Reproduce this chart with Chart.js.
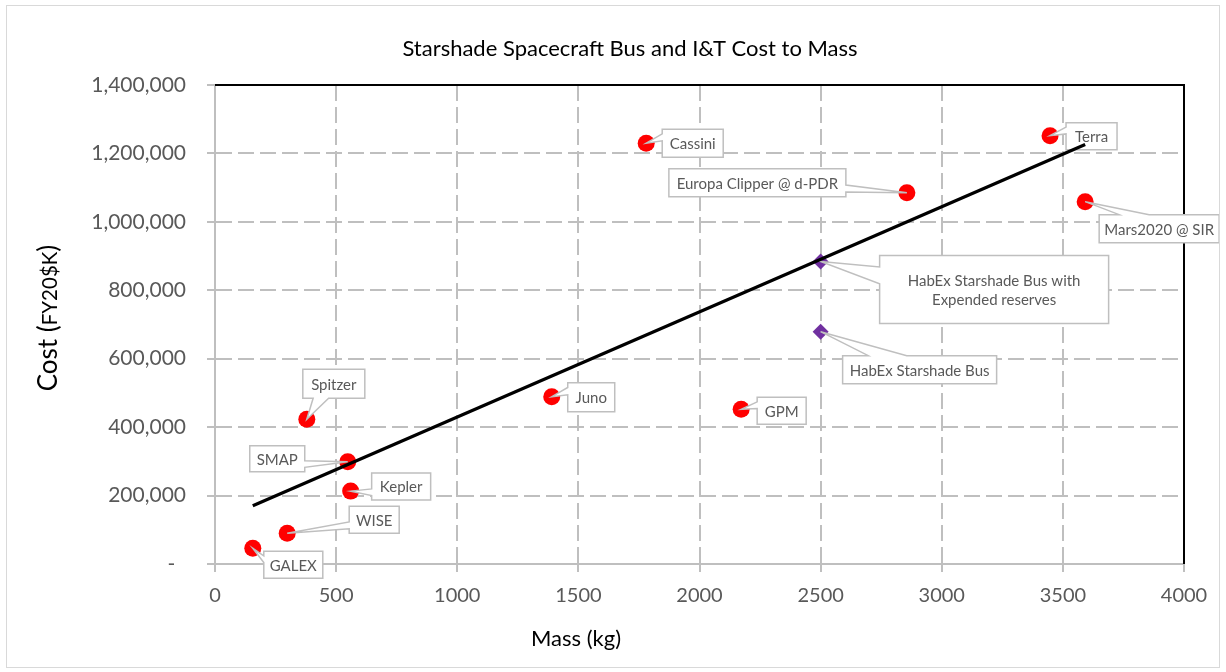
<!DOCTYPE html>
<html>
<head>
<meta charset="utf-8">
<script src="https://cdn.jsdelivr.net/npm/chart.js@4.4.1/dist/chart.umd.min.js"></script>
<style>
html,body{margin:0;padding:0;background:#fff;}
#wrap{width:1226px;height:672px;position:relative;}
</style>
</head>
<body>
<div id="wrap"><canvas id="c"></canvas></div>
<script>
// ---- data ----
const missionNames = ['GALEX', 'WISE', 'Kepler', 'SMAP', 'Spitzer', 'Juno', 'Cassini', 'GPM', 'Europa Clipper @ d-PDR', 'Terra', 'Mars2020 @ SIR'];
const missionMass = [156, 298, 560, 548, 379, 1390, 1780, 2172, 2856, 3447, 3592];
const missionCost = [46000, 90000, 213000, 299000, 423000, 489000, 1230000, 452000, 1085000, 1252000, 1059000];

const habexNames = [['HabEx Starshade Bus with', 'Expended reserves'], ['HabEx Starshade Bus']];
const habexMass = [2500, 2500];
const habexCost = [884000, 679000];

const trendMass = [156, 3592];
const trendCost = [170000, 1226000];

const xTickValues = [0, 500, 1000, 1500, 2000, 2500, 3000, 3500, 4000];
const yTickValues = [0, 200000, 400000, 600000, 800000, 1000000, 1200000, 1400000];

const chartTitle = 'Starshade Spacecraft Bus and I&T Cost to Mass';
const xTitle = 'Mass (kg)';
const yTitleParts = ['Cost (', 'FY20$K', ')'];

// ---- layout (callout boxes: offset from the marker pixel, and size) ----
const missionBoxes = [
  [11, 3, 59, 27], [62, -27, 50, 27], [21, -18, 59, 27], [-98, -16, 55, 26], [-4, -50, 62, 29],
  [16, -14, 47, 29], [16, -14, 61, 28], [16, -12, 49, 27], [-238, -24, 177, 28], [16, -13, 51, 27], [14, 13, 120, 28]
];
const habexBoxes = [[59, -6, 229, 68], [22, 24, 154, 28]];

const FONT = 'Lato, "Open Sans", sans-serif';
const GRID = '#bfbfbf';

function toPts(xs, ys) { return xs.map((x, i) => ({x: x, y: ys[i]})); }

function drawCallout(ctx, bx, by, w, h, px, py, lines) {
  const cx = bx + w / 2, cy = by + h / 2, dx = px - cx, dy = py - cy;
  const R = bx + w, B = by + h;
  let P;
  if (Math.abs(dy) / h > Math.abs(dx) / w) {
    const a = bx + w * (dx > 0 ? 7 : 2) / 12, b = bx + w * (dx > 0 ? 10 : 5) / 12;
    if (dy < 0) P = [[bx, by], [a, by], [px, py], [b, by], [R, by], [R, B], [bx, B]];
    else P = [[bx, by], [R, by], [R, B], [b, B], [px, py], [a, B], [bx, B]];
  } else {
    const a = by + h * (dy > 0 ? 7 : 2) / 12, b = by + h * (dy > 0 ? 10 : 5) / 12;
    if (dx > 0) P = [[bx, by], [R, by], [R, a], [px, py], [R, b], [R, B], [bx, B]];
    else P = [[bx, by], [R, by], [R, B], [bx, B], [bx, b], [px, py], [bx, a]];
  }
  ctx.save();
  ctx.beginPath();
  P.forEach((p, i) => i ? ctx.lineTo(p[0], p[1]) : ctx.moveTo(p[0], p[1]));
  ctx.closePath();
  ctx.fillStyle = '#ffffff';
  ctx.fill();
  ctx.lineWidth = 1.5;
  ctx.strokeStyle = '#bfbfbf';
  ctx.lineJoin = 'miter';
  ctx.stroke();
  ctx.fillStyle = '#595959';
  ctx.font = '15px ' + FONT;
  ctx.textAlign = 'center';
  ctx.textBaseline = 'middle';
  const lh = 19.5;
  lines.forEach((t, i) => {
    ctx.fillText(t, cx, cy + (i - (lines.length - 1) / 2) * lh + 1);
  });
  ctx.restore();
}

const decorPlugin = {
  id: 'decor',
  beforeDatasetDraw(chart, args) {
    if (args.index !== 2) return;
    const ctx = chart.ctx, xs = chart.scales.x, ys = chart.scales.y;
    missionNames.forEach((n, i) => {
      const px = xs.getPixelForValue(missionMass[i]), py = ys.getPixelForValue(missionCost[i]);
      const b = missionBoxes[i];
      drawCallout(ctx, px + b[0], py + b[1], b[2], b[3], px, py, [n]);
    });
    habexNames.forEach((n, i) => {
      const px = xs.getPixelForValue(habexMass[i]), py = ys.getPixelForValue(habexCost[i]);
      const b = habexBoxes[i];
      drawCallout(ctx, px + b[0], py + b[1], b[2], b[3], px, py, n);
    });
  },
  beforeDatasetsDraw(chart) {
    const ctx = chart.ctx, a = chart.chartArea, xs = chart.scales.x;
    ctx.save();
    ctx.strokeStyle = '#000';
    ctx.lineWidth = 2;
    ctx.beginPath();
    ctx.moveTo(a.left, a.top);
    ctx.lineTo(a.right, a.top);
    ctx.lineTo(a.right, a.bottom);
    ctx.stroke();
    ctx.strokeStyle = GRID;
    ctx.lineWidth = 2;
    xTickValues.forEach(v => {
      if (v === 4000) return;
      const x = Math.round(xs.getPixelForValue(v));
      ctx.beginPath();
      ctx.moveTo(x, a.bottom - 4);
      ctx.lineTo(x, a.bottom);
      ctx.stroke();
    });
    ctx.restore();
  },
  afterDraw(chart) {
    const ctx = chart.ctx;
    ctx.save();
    ctx.strokeStyle = '#d9d9d9';
    ctx.lineWidth = 1;
    ctx.strokeRect(6.5, 5.5, 1213, 662);
    ctx.fillStyle = '#000';
    ctx.textAlign = 'center';
    ctx.textBaseline = 'middle';
    ctx.font = '22px ' + FONT;
    ctx.fillText(chartTitle, 630, 49);
    ctx.font = '22px ' + FONT;
    ctx.fillText(xTitle, 576, 639);
    ctx.translate(48, 318);
    ctx.rotate(-Math.PI / 2);
    const fonts = ['26px ' + FONT, '20.5px ' + FONT, '26px ' + FONT];
    const widths = yTitleParts.map((t, i) => { ctx.font = fonts[i]; return ctx.measureText(t).width; });
    let x = -widths.reduce((s, v) => s + v, 0) / 2;
    ctx.textAlign = 'left';
    ctx.textBaseline = 'alphabetic';
    yTitleParts.forEach((t, i) => {
      ctx.font = fonts[i];
      ctx.fillText(t, x, 9);
      x += widths[i];
    });
    ctx.restore();
  }
};

new Chart(document.getElementById('c'), {
  type: 'scatter',
  data: {
    datasets: [
      {
        label: 'Missions',
        data: toPts(missionMass, missionCost),
        pointStyle: 'circle',
        pointRadius: 8.5,
        pointHoverRadius: 8.5,
        pointBackgroundColor: '#ff0000',
        pointBorderWidth: 0,
        order: 3
      },
      {
        label: 'HabEx',
        data: toPts(habexMass, habexCost),
        pointStyle: 'rectRot',
        pointRadius: 8,
        pointHoverRadius: 8,
        pointBackgroundColor: '#7030a0',
        pointBorderWidth: 0,
        order: 2
      },
      {
        label: 'Trend',
        data: toPts(trendMass, trendCost),
        showLine: true,
        borderColor: '#000',
        borderWidth: 3.2,
        pointRadius: 0,
        pointHoverRadius: 0,
        order: 1
      }
    ]
  },
  options: {
    responsive: true,
    maintainAspectRatio: false,
    animation: false,
    events: [],
    layout: {padding: {top: 85, right: 42, bottom: 0, left: 0}},
    plugins: {legend: {display: false}, title: {display: false}, tooltip: {enabled: false}},
    scales: {
      x: {
        type: 'linear',
        min: 0, max: 4000,
        afterBuildTicks(s) { s.ticks = xTickValues.map(v => ({value: v})); },
        afterFit(s) { s.height = 108; },
        grid: {color: GRID, lineWidth: 2, tickLength: 8, tickColor: GRID, tickWidth: 2, tickBorderDash: []},
        border: {display: true, color: GRID, width: 2, dash: [16, 6]},
        ticks: {color: '#595959', font: {family: FONT, size: 20}, padding: 12, maxRotation: 0,
          callback: v => String(v)}
      },
      y: {
        type: 'linear',
        min: 0, max: 1400000,
        afterBuildTicks(s) { s.ticks = yTickValues.map(v => ({value: v})); },
        afterFit(s) { s.width = 215; },
        grid: {color: GRID, lineWidth: 2, tickLength: 8, tickColor: GRID, tickWidth: 2, tickBorderDash: []},
        border: {display: true, color: GRID, width: 2, dash: [16, 6]},
        ticks: {
          color: '#595959', font: {family: FONT, size: 21}, padding: 21,
          callback: v => v === 0 ? '-  ' : v.toLocaleString('en-US')
        }
      }
    }
  },
  plugins: [decorPlugin]
});
</script>
</body>
</html>
